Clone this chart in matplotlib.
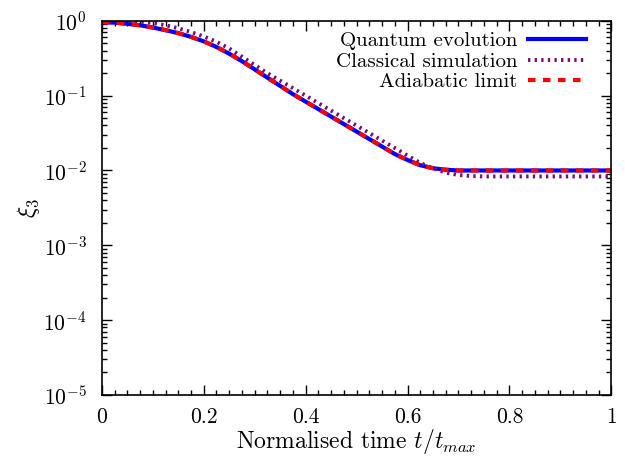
import numpy as np
from matplotlib import pyplot as plt
from matplotlib.ticker import MultipleLocator, LogLocator, NullFormatter

# Data (log10 of xi_3)
t = [0, 0.025, 0.05, 0.075, 0.1, 0.125, 0.15, 0.175, 0.2, 0.225, 0.25, 0.275,
     0.3, 0.325, 0.35, 0.375, 0.4, 0.425, 0.45, 0.475, 0.5, 0.525, 0.55, 0.575,
     0.6, 0.625, 0.65, 0.675, 0.7, 0.725, 0.75, 0.8, 0.85, 0.9, 0.95, 1.0]
log_quantum = [-0.02, -0.025, -0.04, -0.06, -0.09, -0.125, -0.165, -0.215, -0.275, -0.35,
               -0.44, -0.54, -0.65, -0.76, -0.87, -0.98, -1.08, -1.18, -1.28, -1.38,
               -1.48, -1.58, -1.68, -1.78, -1.86, -1.93, -1.97, -1.99, -2.0, -2.0,
               -2.0, -2.0, -2.0, -2.0, -2.0, -2.0]
log_classical = [-0.01, 0.0, 0.0, -0.01, -0.03, -0.06, -0.1, -0.15, -0.21, -0.28,
                 -0.37, -0.48, -0.59, -0.7, -0.8, -0.9, -1.0, -1.1, -1.2, -1.3,
                 -1.4, -1.5, -1.6, -1.7, -1.8, -1.9, -1.97, -2.03, -2.06, -2.075,
                 -2.08, -2.08, -2.08, -2.08, -2.08, -2.08]
log_adiabatic = list(log_quantum)

quantum = 10 ** np.array(log_quantum)
classical = 10 ** np.array(log_classical)
adiabatic = 10 ** np.array(log_adiabatic)

# Fonts
plt.rcParams['font.family'] = 'serif'
plt.rcParams['font.serif'] = ['cmr10']
plt.rcParams['mathtext.fontset'] = 'cm'
plt.rcParams['axes.formatter.use_mathtext'] = True

fig = plt.figure(figsize=(6.25, 4.62), dpi=100)
ax = fig.add_axes([0.163, 0.145, 0.815, 0.81])

# Curves
ax.plot(t, quantum, color='#0000ff', lw=3.0, label='Quantum evolution')
ax.plot(t, classical, color='#730f73', lw=2.8, linestyle=(0, (0.6, 1.1)),
        label='Classical simulation')
ax.plot(t, adiabatic, color='#ff0000', lw=3.0, linestyle=(0, (1.8, 1.8)),
        label='Adiabatic limit')

# Axes
ax.set_yscale('log')
ax.set_xlim(0, 1)
ax.set_ylim(1e-5, 1)
ax.xaxis.set_minor_locator(MultipleLocator(0.025))
ax.set_xticks([0, 0.2, 0.4, 0.6, 0.8, 1])
ax.set_xticklabels(['0', '0.2', '0.4', '0.6', '0.8', '1'])
ax.yaxis.set_major_locator(LogLocator(base=10, numticks=10))
ax.yaxis.set_minor_locator(LogLocator(base=10, subs=np.arange(2, 10), numticks=20))
ax.yaxis.set_minor_formatter(NullFormatter())
ax.tick_params(which='both', direction='in', top=True, right=True, width=1)
ax.tick_params(which='major', length=7, labelsize=15.5)
ax.tick_params(axis='x', which='major', pad=9)
ax.tick_params(axis='y', which='major', pad=11)
ax.tick_params(which='minor', length=3.5)
for s in ax.spines.values():
    s.set_linewidth(1.2)

# Labels
ax.set_xlabel(r'Normalised time $t/t_{max}$', fontsize=17, labelpad=0)
ax.set_ylabel(r'$\xi_3$', fontsize=17, labelpad=1)

# Legend
ax.legend(loc='upper right', bbox_to_anchor=(1.0, 1.038), frameon=False,
          markerfirst=False, fontsize=15, handlelength=2.8, labelspacing=0.1,
          borderaxespad=0.9, borderpad=0.3, handletextpad=0.5)

plt.savefig('out.png', dpi=100)
